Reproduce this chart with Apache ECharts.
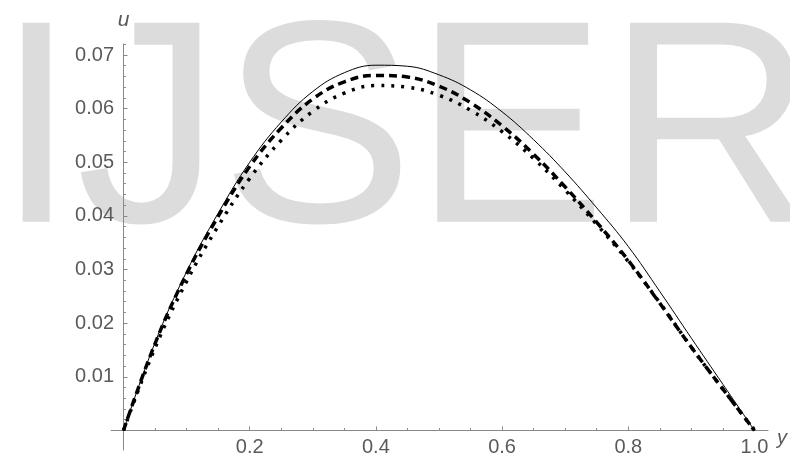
<!DOCTYPE html>
<html>
<head>
<meta charset="utf-8">
<script src="https://cdn.jsdelivr.net/npm/echarts@6/dist/echarts.min.js"></script>
<style>
html,body{margin:0;padding:0;background:#fff;}
#chart{width:790px;height:458px;}
</style>
</head>
<body>
<div id="chart"></div>
<script>
// ---- data ----
const xs = [0, 0.05, 0.1, 0.15, 0.2, 0.25, 0.3, 0.35, 0.4, 0.45, 0.5, 0.55, 0.6, 0.65, 0.7, 0.75, 0.8, 0.85, 0.9, 0.95, 1.0];
const solidU  = [0, 0.0164, 0.0296, 0.0405, 0.0500, 0.0575, 0.0632, 0.0667, 0.0681, 0.0679, 0.0663, 0.0635, 0.0594, 0.0542, 0.0482, 0.0415, 0.0343, 0.0259, 0.0172, 0.0086, 0];
const dashedU = [0, 0.0162, 0.0292, 0.0399, 0.0492, 0.0564, 0.0618, 0.0650, 0.0662, 0.0659, 0.0642, 0.0611, 0.0568, 0.0515, 0.0454, 0.0388, 0.0317, 0.0237, 0.0155, 0.0077, 0];
const dottedU = [0, 0.0154, 0.0278, 0.0381, 0.0470, 0.0541, 0.0595, 0.0629, 0.0643, 0.0640, 0.0625, 0.0597, 0.0557, 0.0507, 0.0448, 0.0384, 0.0315, 0.0238, 0.0155, 0.0077, 0];
const xMajorTicks = [0.2, 0.4, 0.6, 0.8, 1.0];
const xMinorTicks = [0.05, 0.1, 0.15, 0.25, 0.3, 0.35, 0.45, 0.5, 0.55, 0.65, 0.7, 0.75, 0.85, 0.9, 0.95];
const yMajorTicks = [0.01, 0.02, 0.03, 0.04, 0.05, 0.06, 0.07];
const yMinorTicks = [0.002, 0.004, 0.006, 0.008, 0.012, 0.014, 0.016, 0.018, 0.022, 0.024, 0.026, 0.028,
  0.032, 0.034, 0.036, 0.038, 0.042, 0.044, 0.046, 0.048, 0.052, 0.054, 0.056, 0.058,
  0.062, 0.064, 0.066, 0.068, 0.072];
const xRange = [-0.0198, 1.0214];
const yRange = [-0.00364, 0.07205];
const xName = 'y';
const yName = 'u';
const watermark = 'IJSER';

// ---- styling ----
const axisColor = '#8a8a8a';
const labelColor = '#5a5a5a';
const font = 'Liberation Sans, Arial, sans-serif';

const chart = echarts.init(document.getElementById('chart'), null, {renderer: 'canvas'});

function pairs(vals) { return xs.map((x, i) => [x, vals[i]]); }

const option = {
  animation: false,
  backgroundColor: '#ffffff',
  graphic: [{
    type: 'text',
    z: -10,
    silent: true,
    x: -4,
    y: 142,
    style: {
      text: watermark,
      fontFamily: font,
      fontSize: 289,
      fill: '#dcdcdc',
      align: 'left',
      verticalAlign: 'middle'
    }
  }],
  grid: {left: 111, right: 22, top: 44, bottom: 8, containLabel: false, outerBoundsMode: 'none'},
  xAxis: [{
    type: 'value', position: 'bottom', min: xRange[0], max: xRange[1],
    name: xName, nameLocation: 'end', nameGap: 9,
    nameTextStyle: {color: labelColor, fontFamily: font, fontSize: 20, fontStyle: 'italic', verticalAlign: 'top', lineHeight: 16},
    axisLine: {show: true, onZero: true, lineStyle: {color: axisColor, width: 1}},
    axisTick: {show: true, inside: true, length: 4, customValues: xMajorTicks, lineStyle: {color: axisColor, width: 1}},
    axisLabel: {show: true, customValues: xMajorTicks, margin: -13, color: labelColor, fontFamily: font, fontSize: 20,
      formatter: v => Number(v).toFixed(1)},
    splitLine: {show: false}
  }, {
    type: 'value', position: 'bottom', min: xRange[0], max: xRange[1],
    axisLine: {show: false, onZero: true},
    axisTick: {show: true, inside: true, length: 2.5, customValues: xMinorTicks, lineStyle: {color: axisColor, width: 1}},
    axisLabel: {show: false},
    splitLine: {show: false}
  }],
  yAxis: [{
    type: 'value', position: 'left', min: yRange[0], max: yRange[1],
    name: yName, nameLocation: 'end', nameGap: 13,
    nameTextStyle: {color: labelColor, fontFamily: font, fontSize: 21, fontStyle: 'italic', align: 'center'},
    axisLine: {show: true, onZero: true, lineStyle: {color: axisColor, width: 1}},
    axisTick: {show: true, inside: true, length: 4, customValues: yMajorTicks, lineStyle: {color: axisColor, width: 1}},
    axisLabel: {show: true, customValues: yMajorTicks, margin: -3, color: labelColor, fontFamily: font, fontSize: 20,
      formatter: v => Number(v).toFixed(2)},
    splitLine: {show: false}
  }, {
    type: 'value', position: 'left', min: yRange[0], max: yRange[1],
    axisLine: {show: false, onZero: true},
    axisTick: {show: true, inside: true, length: 2.5, customValues: yMinorTicks, lineStyle: {color: axisColor, width: 1}},
    axisLabel: {show: false},
    splitLine: {show: false}
  }],
  series: [{
    name: 'dotted', type: 'line', xAxisIndex: 0, yAxisIndex: 0,
    data: pairs(dottedU), smooth: 0.4, symbol: 'none', z: 3,
    lineStyle: {color: '#000', width: 3.5, type: [3, 7], cap: 'butt'}
  }, {
    name: 'dashed', type: 'line', xAxisIndex: 0, yAxisIndex: 0,
    data: pairs(dashedU), smooth: 0.4, symbol: 'none', z: 4,
    lineStyle: {color: '#000', width: 3.5, type: [8, 5], cap: 'butt'}
  }, {
    name: 'solid', type: 'line', xAxisIndex: 0, yAxisIndex: 0,
    data: pairs(solidU), smooth: 0.4, symbol: 'none', z: 5,
    lineStyle: {color: '#000', width: 1, type: 'solid'}
  }]
};
chart.setOption(option);
</script>
</body>
</html>
